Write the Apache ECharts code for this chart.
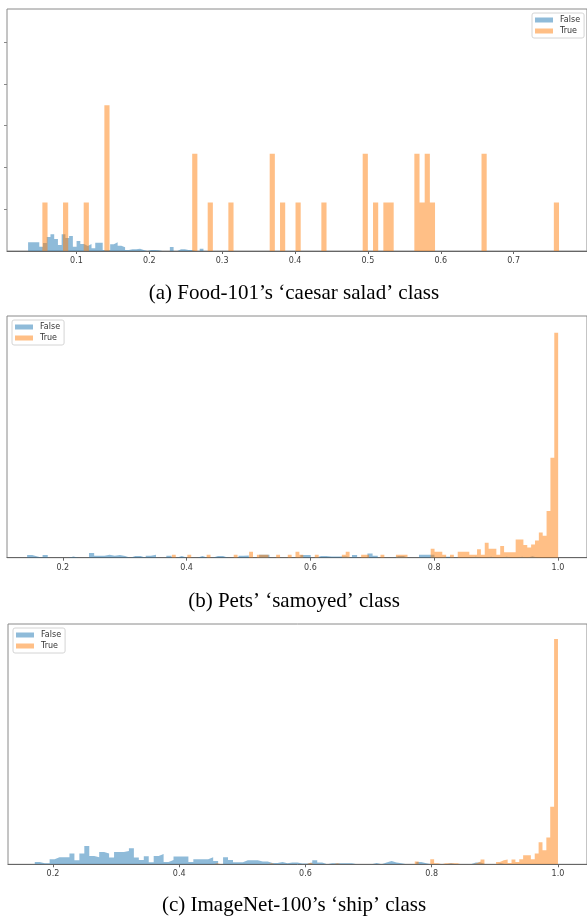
<!DOCTYPE html>
<html><head><meta charset="utf-8">
<script src="https://cdn.jsdelivr.net/npm/echarts@6/dist/echarts.min.js"></script>
<style>html,body{margin:0;padding:0;background:#fff}#c{width:587px;height:918px}</style>
</head><body><div id="c"></div><script>
// ---------- data: histogram bin heights (100 bins each) ----------
// (a) Food-101 'caesar salad'
const aFalseStart = 0.0337, aFalseWidth = 0.00512;
const aFalse = [
0.83,0.83,0.83,0.41,0.77,1.34,1.6,1.15,0.57,1.6,
1.24,1.44,0.41,0.96,0.67,0.48,0.67,0.26,0.79,0.79,
0.1,0.1,0.64,0.83,0.51,0.35,0.1,0.16,0.16,0.22,
0.1,0,0.1,0.1,0.07,0,0,0,0.38,0,
0.16,0.16,0.1,0.1,0,0,0.22,0,0,0,
0,0,0,0,0,0,0,0,0,0,
0,0,0,0,0,0,0,0,0,0,
0,0,0,0,0,0,0,0,0,0,
0,0,0,0,0,0,0,0,0,0,
0,0,0,0,0,0,0,0,0,0.1];
const aTrueStart = 0.0533, aTrueWidth = 0.00709;
const aTrue = [
4.65,0,0,0,4.65,0,0,0,4.65,0,
0,0,13.95,0,0,0,0,0,0,0,
0,0,0,0,0,0,0,0,0,9.3,
0,0,4.65,0,0,0,4.65,0,0,0,
0,0,0,0,9.3,0,4.65,0,0,4.65,
0,0,0,0,4.65,0,0,0,0,0,
0,0,9.3,0,4.65,0,4.65,4.65,0,0,
0,0,9.3,4.65,9.3,4.65,0,0,0,0,
0,0,0,0,0,9.3,0,0,0,0,
0,0,0,0,0,0,0,0,0,4.65];
// (b) Pets 'samoyed'
const bFalseStart = 0.1424, bFalseWidth = 0.00833;
const bFalse = [
0.9,0.43,0,0.9,0,0,0,0,0.43,0,
0,0,1.57,0.67,0.67,1.0,0.67,0.9,0.57,0,
0.57,0.57,0,0.67,1.0,0,0,0.67,0,0.57,
0,0,0,0.57,0,0,0.57,0.57,0,0,
0,0.67,0.77,0,0,1.0,1.0,0,0,0,
0,0,0,0.9,0.9,0,0.57,0.57,0.43,0.43,
0.43,0.43,0,0.9,0,0,1.43,0.67,0,0,
0,0.57,0.57,0,0,0,1.0,1.0,1.0,0,
0.33,0.33,0,0,0,0,0.33,0,0,0.33,
0,0,0.33,0,0,0.33,0,0.5,0,0.33];
const bTrueStart = 0.3763, bTrueWidth = 0.00624;
const bTrue = [
1,0,0,0,1,0,0,0,0,1,
0,0,0,0,0,0,1,0,0,0,
2,0,1,1,1,0,0,1,0,0,
1,0,2,1,0,0,0,1,0,0,
0,0,0,0,1,2,0,0,0,1,
1,0,0,0,1,0,0,0,1,1,
1,0,0,0,0,0,0,3,2,2,
1,0,1,0,2,2,2,1,1,2.8,
1,5,3,3,1,3.9,1.8,1.8,1.8,6.1,
6.1,4.2,3.4,4.4,5.7,8.4,7.3,15.6,33.3,75];
// (c) ImageNet-100 'ship'
const cFalseStart = 0.1712, cFalseWidth = 0.00785;
const cFalse = [
0.77,0.33,0.33,1.67,2.33,2.33,2.33,3.57,1.33,3.57,
6.1,2.77,2.33,4.1,3.57,2.23,4.1,4.1,4.43,5.33,
2.23,1.43,2.67,0.67,2.77,3.43,0.77,1.43,2.57,2.57,
2.57,0.77,1.67,1.67,1.67,2.33,1.1,0,2.33,1.43,
0.67,0.67,1.33,1.33,1.33,0.9,0.9,0.43,0.43,0.77,
0.33,0.57,0.57,0.23,0.23,0.57,1.33,0.57,0,0.33,
0.33,0.33,0.33,0.33,0,0,0,0,0.43,0,
0.57,1.1,0.57,0.33,0,0,0,0.77,0.33,0,
0,0,0,0.33,0,0,0,0,0.57,0.57,
0,0,0,0.33,0,0,0,0,0,0.33];
const cTrueStart = 0.387, cTrueWidth = 0.00613;
const cTrue = [
0,0,0,0,0,0,0,0,0,0,
0,0.33,0,0,0,0,0,0,0,0,
0,0,0,0,0,0.33,0,0,0,0,
0,0,0,0,0,0.5,0,0,0,0,
0,0,0.33,0,0,0,0,0,0,0,
0,0,0,0,0,0,0,0,0,0,
0,0,0,0.9,0,0,0,1.67,0.33,0,
0.33,0.33,0.33,0.33,0,0,0,0,0.33,0.9,
1.57,0,0,0,0.77,1.33,1.57,0.43,1.57,0.77,
1.67,3,3,1.67,3.57,7.33,4.67,8.9,19.2,75.1];
// axis ticks
const aXTicks = [0.1,0.2,0.3,0.4,0.5,0.6,0.7];
const bcXTicks = [0.2,0.4,0.6,0.8,1.0];
const aYTicks = [4,8,12,16,20];
const captions = ['(a) Food-101’s ‘caesar salad’ class', '(b) Pets’ ‘samoyed’ class', '(c) ImageNet-100’s ‘ship’ class'];
const seriesNames = ['False','True'];

// ---------- chart ----------
const BLUE = 'rgba(31,119,180,0.5)', ORANGE = 'rgba(255,127,14,0.5)';
function steps(start, width, h) {
  const pts = h.map((v, i) => [start + i * width, v]);
  pts.push([start + h.length * width, 0]);
  return pts;
}
function hist(name, idx, start, width, h, color) {
  return {type:'line', name, xAxisIndex:idx, yAxisIndex:idx, data:steps(start,width,h), step:'end',
    symbol:'none', silent:true, color, itemStyle:{color}, lineStyle:{width:0, opacity:0},
    areaStyle:{color, opacity:1}, animation:false};
}
const grids = [
  {left:7, top:9, width:585, height:242},
  {left:7, top:316, width:585, height:241.7},
  {left:8, top:624, width:584, height:240.3}
].map(g => Object.assign(g, {show:true, borderColor:'#8a8a8a', borderWidth:1, containLabel:false}));
const xr = [[0.00476, 0.8007], [0.1099, 1.0469], [0.1288, 1.046]];
const ymax = [23.16, 80.57, 80.1];
function xAxis(i, ticks) {
  return {gridIndex:i, type:'value', min:xr[i][0], max:xr[i][1], splitLine:{show:false},
    axisLine:{show:true, onZero:false, lineStyle:{color:'#666', width:1}},
    axisTick:{show:true, length:3, customValues:ticks, lineStyle:{color:'#666'}},
    axisLabel:{customValues:ticks, formatter:v => v.toFixed(1), fontSize:8, color:'#3a3a3a', margin:6, fontFamily:'DejaVu Sans'}};
}
function yAxis(i) {
  const ax = {gridIndex:i, type:'value', min:0, max:ymax[i], splitLine:{show:false}, axisLine:{show:false},
    axisLabel:{show:false}, axisTick:{show:false}};
  if (i === 0) ax.axisTick = {show:true, length:3, customValues:aYTicks, lineStyle:{color:'#888'}};
  return ax;
}
function legend(left, top) {
  return {left, top, orient:'vertical', icon:'rect', itemWidth:18, itemHeight:5, itemGap:3,
    padding:[3,4,3,3], borderColor:'#d4d4d4', borderWidth:1, borderRadius:2, backgroundColor:'#fff',
    selectedMode:false, textStyle:{fontSize:8, color:'#333', fontFamily:'DejaVu Sans', padding:[0,0,0,2]},
    data:seriesNames};
}
const capY = [293, 601, 905];
const option = {
  animation:false,
  grid:grids,
  xAxis:[xAxis(0, aXTicks), xAxis(1, bcXTicks), xAxis(2, bcXTicks)],
  yAxis:[yAxis(0), yAxis(1), yAxis(2)],
  legend:[legend(532,13), legend(12,320), legend(13,628)],
  series:[
    hist(seriesNames[0],0,aFalseStart,aFalseWidth,aFalse,BLUE), hist(seriesNames[1],0,aTrueStart,aTrueWidth,aTrue,ORANGE),
    hist(seriesNames[0],1,bFalseStart,bFalseWidth,bFalse,BLUE), hist(seriesNames[1],1,bTrueStart,bTrueWidth,bTrue,ORANGE),
    hist(seriesNames[0],2,cFalseStart,cFalseWidth,cFalse,BLUE), hist(seriesNames[1],2,cTrueStart,cTrueWidth,cTrue,ORANGE)
  ],
  graphic: captions.map((t, i) => ({type:'text', x:294, y:capY[i], silent:true,
    style:{text:t, align:'center', verticalAlign:'middle', font:'21px "Liberation Serif"', fill:'#000'}}))
};
const chart = echarts.init(document.getElementById('c'), null, {renderer:'canvas'});
chart.setOption(option);
</script></body></html>
